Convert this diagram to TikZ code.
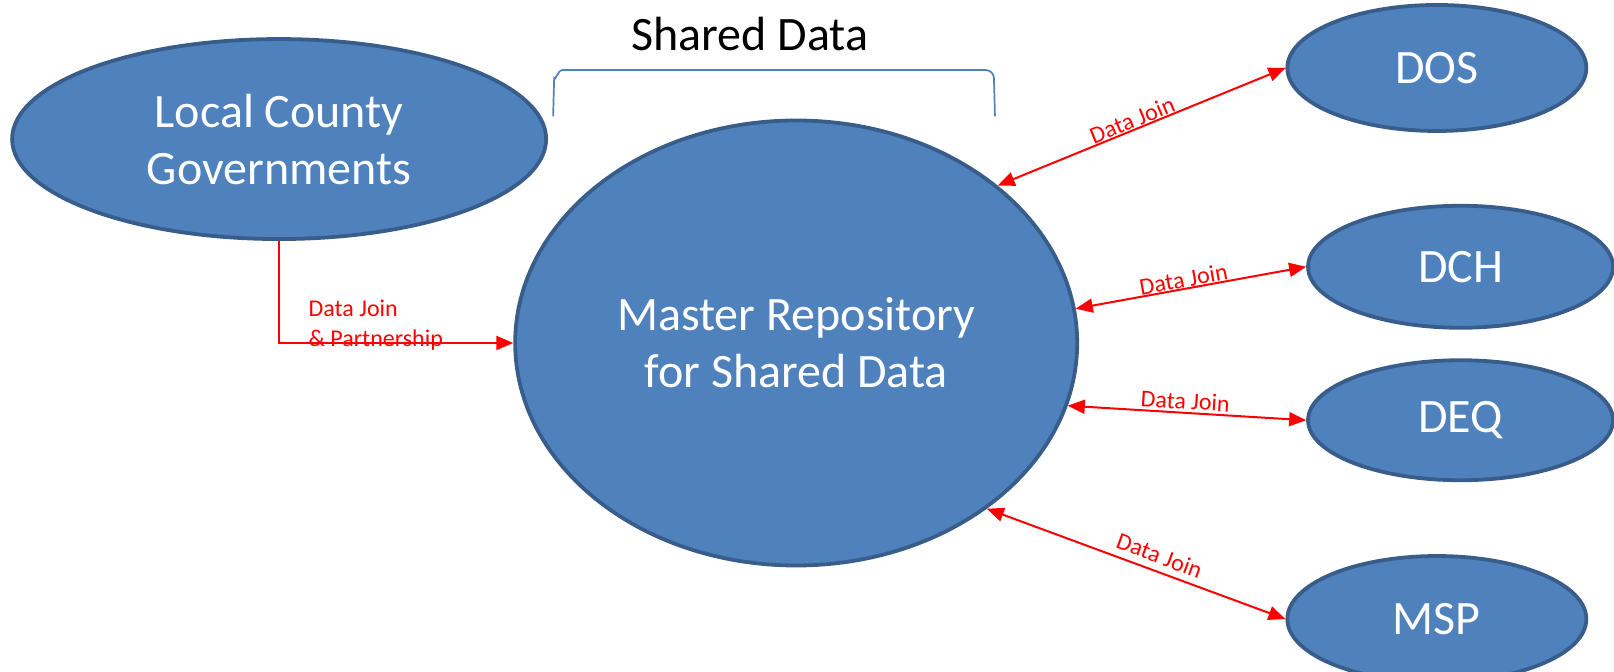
\documentclass[tikz,border=0pt]{standalone}
\usepackage{fontspec}
\setmainfont{Carlito}
\usetikzlibrary{shapes.geometric,arrows.meta}
\definecolor{boxfill}{HTML}{4F81BD}
\definecolor{boxline}{HTML}{385D8A}
\definecolor{jred}{HTML}{FF0000}
\begin{document}
\begin{tikzpicture}[x=1.03pt,y=-1.03pt,
  blob/.style={ellipse,draw=boxline,fill=boxfill,line width=3.8pt,inner sep=0pt,text=white,align=center,font=\fontsize{48}{57}\selectfont},
  link/.style={draw=jred,line width=2pt,{Triangle[length=17pt,width=14pt]}-{Triangle[length=17pt,width=14pt]}},
  lab/.style={text=jred,font=\fontsize{24}{30}\selectfont,inner sep=0.5pt}]
\useasboundingbox (0,0) rectangle (1567,652.4);
\node[blob,minimum width=534pt,minimum height=200pt] (local) at (271,135) {Local County\\Governments};
\node[blob,minimum width=562pt,minimum height=445pt] (master) at (773,333) {Master Repository\\for Shared Data};
\node[blob,minimum width=299pt,minimum height=126pt] (dos) at (1395,66) {DOS};
\node[blob,minimum width=305pt,minimum height=122pt] (dch) at (1418,259) {DCH};
\node[blob,minimum width=305pt,minimum height=120pt] (deq) at (1418,408) {DEQ};
\node[blob,minimum width=299pt,minimum height=126pt] (msp) at (1395,601) {MSP};
\node[font=\fontsize{48}{56}\selectfont] (shared) at (728,33) {Shared Data};
\coordinate (bl) at (537,113);
\coordinate (br) at (966,113);
\draw[boxfill,line width=1.7pt] (bl) -- (538,76) to[out=-90,in=180] (546,68) -- (957,68) to[out=0,in=90] (965,76) -- (br);
\draw[draw=jred,line width=2pt,-{Triangle[length=17pt,width=14pt]}] (local.south) |- (master.west);
\node[lab,anchor=west,align=left] (ljoin) at (299,316) {Data Join\\\& Partnership};
\draw[link] (master.38.7) -- node[lab,sloped,above,pos=0.48] {Data Join} (dos.west);
\draw[link] (master.7.9) -- node[lab,sloped,above,pos=0.475] {Data Join} (dch.west);
\draw[link] (master.-13.6) -- node[lab,sloped,above=2pt,pos=0.49] {Data Join} (deq.west);
\draw[link] (master.-41.7) -- node[lab,sloped,above=6pt,pos=0.56] {Data Join} (msp.west);
\end{tikzpicture}
\end{document}
